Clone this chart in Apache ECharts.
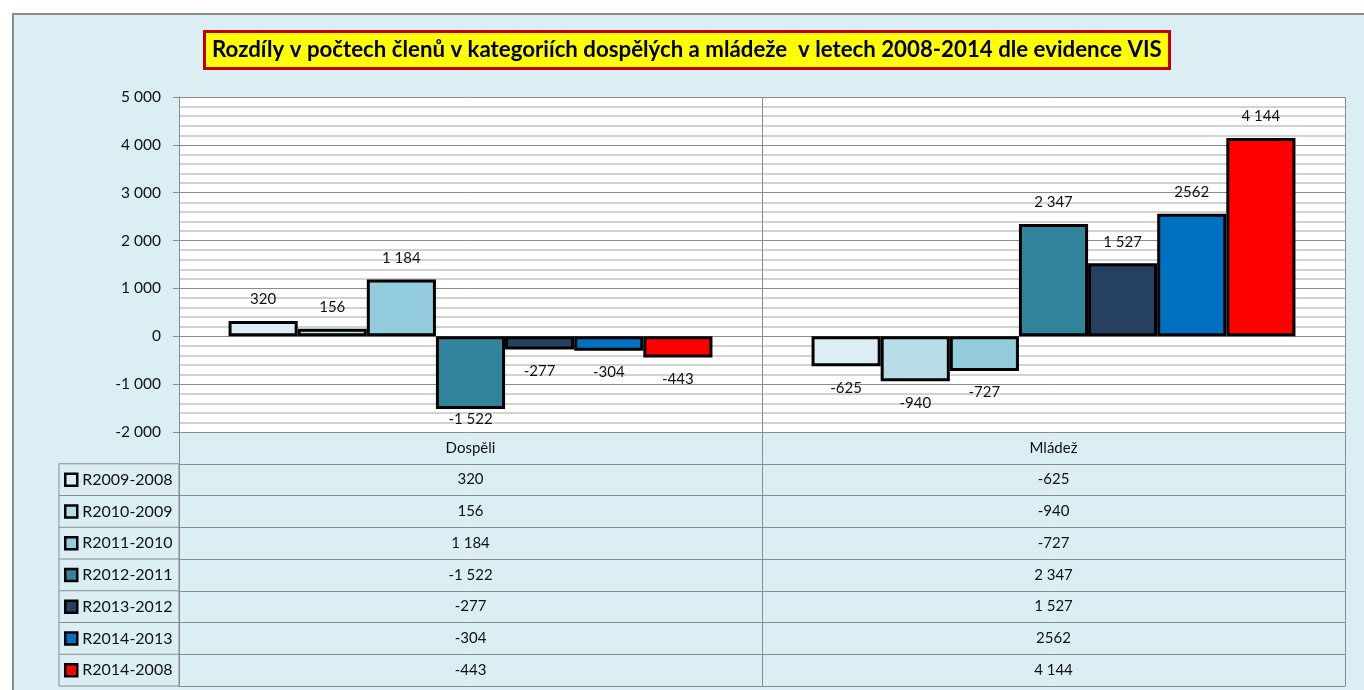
<!DOCTYPE html>
<html><head><meta charset="utf-8">
<script src="https://cdn.jsdelivr.net/npm/echarts@6/dist/echarts.min.js"></script>
<style>html,body{margin:0;padding:0;background:#fff}#c{width:1364px;height:690px}</style>
</head><body><div id="c"></div>
<script>
const titleText = 'Rozdíly v počtech členů v kategoriích dospělých a mládeže  v letech 2008-2014 dle evidence VIS';
const categories = ['Dospěli', 'Mládež'];
const seriesNames = ['R2009-2008', 'R2010-2009', 'R2011-2010', 'R2012-2011', 'R2013-2012', 'R2014-2013', 'R2014-2008'];
const dospeli = [320, 156, 1184, -1522, -277, -304, -443];
const mladez = [-625, -940, -727, 2347, 1527, 2562, 4144];
const dospeliText = ['320', '156', '1 184', '-1 522', '-277', '-304', '-443'];
const mladezText = ['-625', '-940', '-727', '2 347', '1 527', '2562', '4 144'];
const colors = ['#DBEEF4', '#B7DDE8', '#93CDDD', '#31849B', '#254061', '#0070C0', '#FF0000'];
const yMin = -2000, yMax = 5000, yStep = 1000;

const FONT = 'Lato, "Liberation Sans", sans-serif';
const GRID = {left: 179, right: 19, top: 97, bottom: 258};
const PLOT_BOTTOM = 690 - GRID.bottom;
const ROW_H = 31.75;
const LINE = '#8C8C8C';
const TXT = '#111';

function fmt(v) {
  const s = Math.abs(v).toString().replace(/\B(?=(\d{3})+(?!\d))/g, ' ');
  return (v < 0 ? '-' : '') + s;
}

const rows = [categories].concat(seriesNames.map((n, i) => [dospeliText[i], mladezText[i]]));

const xAxes = [{
  type: 'category', data: categories, gridIndex: 0, position: 'bottom',
  axisLine: {show: true, lineStyle: {color: LINE}},
  axisTick: {show: false}, axisLabel: {show: false},
  splitLine: {show: true, lineStyle: {color: LINE}}
}];
rows.forEach((r, k) => {
  xAxes.push({
    type: 'category', data: r, gridIndex: 0, position: 'bottom', offset: ROW_H * (k + 1),
    axisLine: {show: true, onZero: false, lineStyle: {color: LINE}},
    axisTick: {show: true, inside: true, length: ROW_H, lineStyle: {color: LINE}},
    axisLabel: {margin: -ROW_H / 2, verticalAlign: 'middle', color: TXT, fontSize: 15, fontFamily: FONT},
    splitLine: {show: false}
  });
});

const series = seriesNames.map((name, i) => ({
  name, type: 'bar', xAxisIndex: 0, yAxisIndex: 0,
  barGap: '0%', barCategoryGap: '17%',
  itemStyle: {color: colors[i], borderColor: '#000', borderWidth: 3},
  label: {show: true, distance: 14, fontSize: 15, color: TXT, fontFamily: FONT},
  labelLayout: function (p) {
    const over = p.labelRect.y + p.labelRect.height - (PLOT_BOTTOM - 5);
    return over > 0 ? {dy: -over} : {};
  },
  data: [
    {value: dospeli[i], label: {position: dospeli[i] < 0 ? 'bottom' : 'top', formatter: dospeliText[i]}},
    {value: mladez[i], label: {position: mladez[i] < 0 ? 'bottom' : 'top', formatter: mladezText[i]}}
  ]
}));

const legendTop = PLOT_BOTTOM + ROW_H;
const graphics = [{
  type: 'rect', z: -100, silent: true,
  shape: {x: 13, y: 14, width: 1400, height: 700},
  style: {fill: '#DBEEF4', stroke: '#8A8A8A', lineWidth: 2}
}, {
  type: 'rect', z: 1, silent: true,
  shape: {x: 59, y: legendTop, width: GRID.left - 59, height: ROW_H * seriesNames.length},
  style: {fill: 'none', stroke: LINE, lineWidth: 1}
}];
for (let k = 1; k < seriesNames.length; k++) {
  graphics.push({
    type: 'line', z: 1, silent: true,
    shape: {x1: 59, y1: legendTop + ROW_H * k, x2: GRID.left, y2: legendTop + ROW_H * k},
    style: {stroke: LINE, lineWidth: 1}
  });
}

const chart = echarts.init(document.getElementById('c'), null, {renderer: 'canvas'});
chart.setOption({
  backgroundColor: '#fff',
  animation: false,
  textStyle: {fontFamily: FONT},
  title: {
    text: titleText, left: 204, top: 31,
    padding: [6, 8, 6, 8],
    backgroundColor: '#FFFF00', borderColor: '#C00000', borderWidth: 3,
    textStyle: {fontSize: 22.25, fontWeight: 'bold', color: '#000', fontFamily: FONT, lineHeight: 26}
  },
  legend: {
    data: seriesNames, orient: 'vertical', left: 64, top: legendTop + ROW_H / 2 - 8,
    padding: 0, height: 260,
    icon: 'rect', itemWidth: 12, itemHeight: 12, itemGap: ROW_H - 16,
    textStyle: {fontSize: 16, color: TXT, lineHeight: 16, fontFamily: FONT},
    itemStyle: {borderColor: '#000', borderWidth: 2.5},
    selectedMode: false
  },
  grid: Object.assign({show: true, backgroundColor: '#fff', borderWidth: 0}, GRID),
  xAxis: xAxes,
  yAxis: {
    type: 'value', min: yMin, max: yMax, interval: yStep,
    axisLine: {show: true, lineStyle: {color: LINE}},
    axisTick: {show: true, length: 6, lineStyle: {color: LINE}},
    axisLabel: {formatter: fmt, color: TXT, fontSize: 15.5, margin: 18, fontFamily: FONT},
    splitLine: {show: true, lineStyle: {color: '#8C8C8C'}},
    minorTick: {show: false, splitNumber: 5},
    minorSplitLine: {show: true, lineStyle: {color: '#C4C4C4', width: 1.5}}
  },
  graphic: graphics,
  series
});
</script></body></html>
